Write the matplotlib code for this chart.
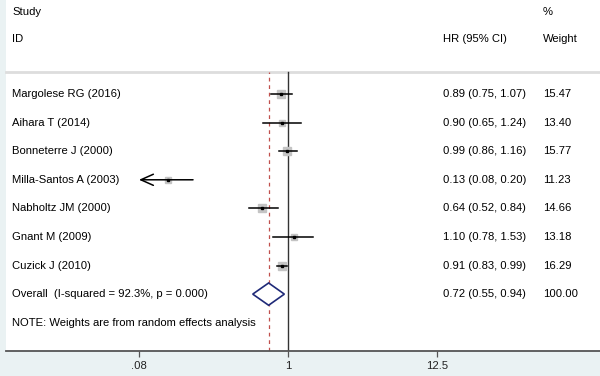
import numpy as np
import matplotlib.pyplot as plt

plt.rcParams['font.family'] = ['Liberation Sans', 'DejaVu Sans']

studies = ["Margolese RG (2016)", "Aihara T (2014)", "Bonneterre J (2000)",
           "Milla-Santos A (2003)", "Nabholtz JM (2000)", "Gnant M (2009)",
           "Cuzick J (2010)"]
hr = [0.89, 0.90, 0.99, 0.13, 0.64, 1.10, 0.91]
lo = [0.75, 0.65, 0.86, 0.08, 0.52, 0.78, 0.83]
hi = [1.07, 1.24, 1.16, 0.20, 0.84, 1.53, 0.99]
weight = [15.47, 13.40, 15.77, 11.23, 14.66, 13.18, 16.29]
overall = (0.72, 0.55, 0.94)
overall_label = "Overall  (I-squared = 92.3%, p = 0.000)"
note = "NOTE: Weights are from random effects analysis"
ticks = [0.08, 1, 12.5]
tick_labels = [".08", "1", "12.5"]

W, H = 600, 376
fig = plt.figure(figsize=(6, 3.76), dpi=100, facecolor='#eaf2f3')
ax = fig.add_axes([6 / W, 25 / H, 594 / W, 351 / H])
ax.set_facecolor('white')
ax.set_xscale('log')
# 59 px per ln unit, x=1 at 288 px
ax.set_xlim(np.exp((6 - 288) / 59), np.exp((600 - 288) / 59))
ax.set_ylim(8.99, -3.29)
for s in ['top', 'right', 'left']:
    ax.spines[s].set_visible(False)
ax.spines['bottom'].set_color('#555555')
ax.spines['bottom'].set_linewidth(1.3)
ax.set_yticks([])
ax.set_xticks(ticks)
ax.set_xticklabels(tick_labels, fontsize=8.1, color='#222222')
ax.minorticks_off()
ax.tick_params(axis='x', length=4, width=0.9, color='#555555', pad=3)

trans = ax.get_yaxis_transform()
fs = 8.1

def fx(px):
    return (px - 6) / 594

# headers
ax.text(fx(12), -2.87, "Study", transform=trans, fontsize=fs, va='center')
ax.text(fx(12), -1.92, "ID", transform=trans, fontsize=fs, va='center')
ax.text(fx(443), -1.92, "HR (95% CI)", transform=trans, fontsize=fs, va='center')
ax.text(fx(543), -2.87, "%", transform=trans, fontsize=fs, va='center')
ax.text(fx(543), -1.92, "Weight", transform=trans, fontsize=fs, va='center')
ax.plot([0, 1], [-0.77, -0.77], transform=trans, color='#dddddd', lw=2, clip_on=False)

top = (8.99 + 0.77) / (8.99 + 3.29)
ax.axvline(1, ymin=0, ymax=top, color='#333333', lw=1)
ax.axvline(overall[0], ymin=0, ymax=top, color='#c0504d', lw=0.9, ls=(0, (3, 3)))

for i, name in enumerate(studies):
    ax.text(fx(12), i, name, transform=trans, fontsize=fs, va='center')
    ax.text(fx(443), i, "%.2f (%.2f, %.2f)" % (hr[i], lo[i], hi[i]),
            transform=trans, fontsize=fs, va='center')
    ax.text(fx(543), i, "%.2f" % weight[i], transform=trans, fontsize=fs, va='center')
    ax.plot(hr[i], i, marker='s', ms=1.35 * np.sqrt(weight[i]), color='#c4c4c4',
            mec='#c4c4c4', zorder=2)
    if lo[i] <= 0.08:
        ax.annotate("", xy=(lo[i], i), xytext=(hi[i], i),
                    arrowprops=dict(arrowstyle='->,head_length=0.9,head_width=0.4',
                                    color='black', lw=1.1, shrinkA=0, shrinkB=0))
    else:
        ax.plot([lo[i], hi[i]], [i, i], color='black', lw=1.1, zorder=3)
    ax.plot(hr[i], i, marker='s', ms=2.0, color='black', zorder=4)

yo = 7
ax.text(fx(12), yo, overall_label, transform=trans, fontsize=fs, va='center')
ax.text(fx(443), yo, "%.2f (%.2f, %.2f)" % overall, transform=trans, fontsize=fs, va='center')
ax.text(fx(543), yo, "100.00", transform=trans, fontsize=fs, va='center')
ax.fill([overall[1], overall[0], overall[2], overall[0], overall[1]],
        [yo, yo - 0.39, yo, yo + 0.39, yo], facecolor='white',
        edgecolor='#1f2a78', lw=1.2, zorder=3)
ax.text(fx(12), 8, note, transform=trans, fontsize=fs, va='center')

fig.savefig('out.png', dpi=100, facecolor=fig.get_facecolor())
